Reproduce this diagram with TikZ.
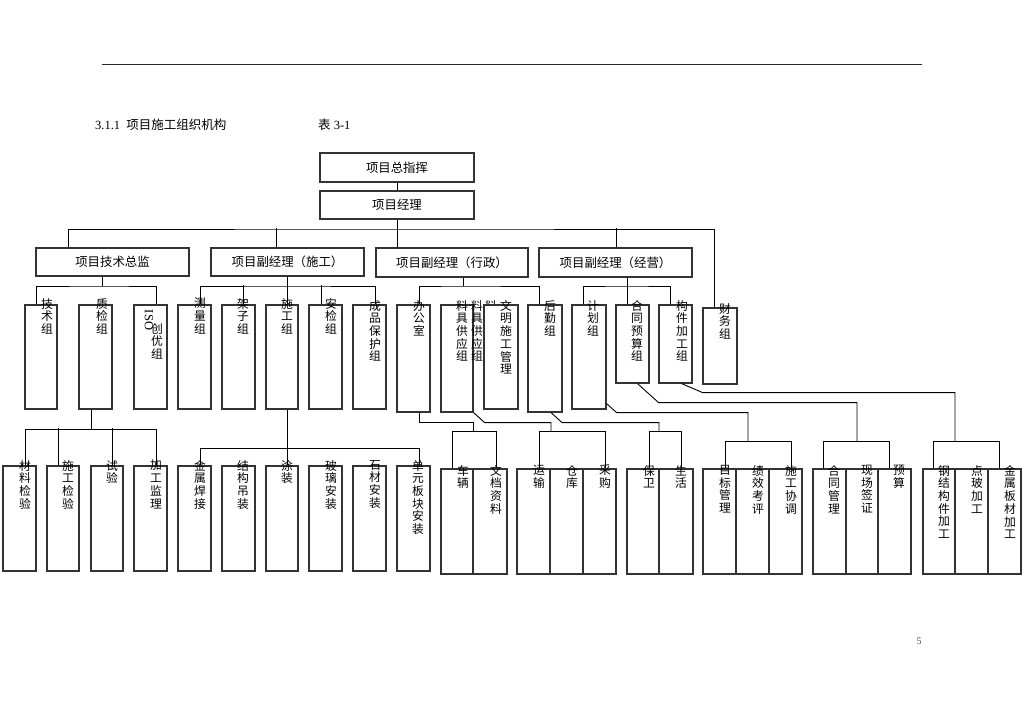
\documentclass[tikz,border=0pt]{standalone}
\usepackage{fontspec}
\setmainfont{Liberation Serif}
\newfontfamily\cjk{Noto Sans CJK SC}
\usetikzlibrary{positioning}

\newcommand\colfont{\cjk\fontsize{11.8}{12.7}\selectfont}
\newcommand\headfont{\cjk\fontsize{12.4}{14}\selectfont}

% empty box from (x1,y1) to (x2,y2)
\newcommand\unitbox[5]{%
  \node[unit, minimum width={#4-#2}, minimum height={#5-#3}]
    (#1) at ({(#2+#4)/2},{(#3+#5)/2}) {};}
% box with its title inside
\newcommand\headbox[6]{%
  \node[head, minimum width={#4-#2}, minimum height={#5-#3}]
    (#1) at ({(#2+#4)/2},{(#3+#5)/2}) {#6};}

\begin{document}
\begin{tikzpicture}[
  x=1pt, y=-1pt,
  unit/.style={draw=black!80, line width=1.1pt, fill=white, inner sep=0pt},
  head/.style={unit, font=\headfont},
  col/.style={anchor=north, align=center, inner sep=0pt, font=\colfont},
  link/.style={line width=0.9pt, black},
]
\useasboundingbox (0,0) rectangle (1024,724);

% page furniture
\coordinate (rl) at (102,64);
\coordinate (rr) at (922,64);
\draw[line width=0.8pt, black!85] (rl) -- (rr);
\node[anchor=west, inner sep=0pt, font=\fontsize{12.5}{14}\selectfont] (title) at (95,125)
  {3.1.1\ \ {\cjk\fontsize{12.5}{14}\selectfont 项目施工组织机构}};
\node[anchor=west, inner sep=0pt, font=\fontsize{12.5}{14}\selectfont] (tabno) at (318,125)
  {{\cjk 表}\ 3-1};
\node[inner sep=0pt, font=\fontsize{10}{12}\selectfont, text=black!70] (pageno) at (919,641) {5};

% === connectors ===
\coordinate (b0) at (397,229);
\coordinate (b1) at (102,286);
\coordinate (b2) at (287,286);
\coordinate (b3) at (463,286);
\coordinate (b4) at (627,286);
\coordinate (b5) at (91,429);
\coordinate (b6) at (287,448);
\coordinate (b7) at (473,431);
\coordinate (b8) at (551,431);
\coordinate (b9) at (659,431);
\coordinate (b10) at (748,441);
\coordinate (b11) at (857,441);
\coordinate (b12) at (955,441);

% boxes
\headbox{zzh}{320}{153}{474}{182}{项目总指挥}
\headbox{xmjl}{320}{191}{474}{219}{项目经理}
\headbox{jszj}{36}{248}{189}{276}{项目技术总监}
\headbox{sgfj}{211}{248}{364}{276}{项目副经理（施工）}
\headbox{xzfj}{376}{248}{528}{277}{项目副经理（行政）}
\headbox{jyfj}{539}{248}{692}{277}{项目副经理（经营）}

\unitbox{jsz}{25}{305}{57}{409}
\unitbox{zjz}{79}{305}{112}{409}
\unitbox{iso}{134}{305}{167}{409}
\unitbox{clz}{178}{305}{211}{409}
\unitbox{jzz}{222}{305}{255}{409}
\unitbox{sgz}{266}{305}{298}{409}
\unitbox{ajz}{309}{305}{342}{409}
\unitbox{cpz}{353}{305}{386}{409}
\unitbox{bgs}{397}{305}{430}{412}
\unitbox{ljz}{441}{305}{473}{412}
\node[col] (t-ljz3) at (491,300) {料\\具\\供\\应\\组};
\unitbox{wm}{484}{305}{518}{409}
\unitbox{hqz}{528}{305}{562}{412}
\unitbox{jhz}{572}{305}{606}{409}
\unitbox{htz}{616}{305}{649}{383}
\unitbox{gjz}{659}{305}{692}{383}
\unitbox{cwz}{703}{308}{737}{384}

\unitbox{cljy}{3}{466}{36}{571}
\unitbox{sgjy}{47}{466}{79}{571}
\unitbox{sy}{91}{466}{123}{571}
\unitbox{jgjl}{134}{466}{167}{571}
\unitbox{jshj}{178}{466}{211}{571}
\unitbox{jgdz}{222}{466}{255}{571}
\unitbox{tz}{266}{466}{298}{571}
\unitbox{blaz}{309}{466}{342}{571}
\unitbox{scaz}{353}{466}{386}{571}
\unitbox{dyaz}{397}{466}{430}{571}

\unitbox{cl}{441}{469}{473}{574}
\unitbox{wdzl}{473}{469}{507}{574}
\unitbox{ys}{517}{469}{550}{574}
\unitbox{ck}{550}{469}{583}{574}
\unitbox{cg}{583}{469}{616}{574}
\unitbox{bw}{627}{469}{659}{574}
\unitbox{sh}{659}{469}{693}{574}
\unitbox{mbgl}{703}{469}{736}{574}
\unitbox{jxkp}{736}{469}{769}{574}
\unitbox{sgxt}{769}{469}{802}{574}
\unitbox{htgl}{813}{469}{846}{574}
\unitbox{xcqz}{846}{469}{878}{574}
\unitbox{ysx}{878}{469}{911}{574}
\unitbox{gjg}{923}{469}{955}{574}
\unitbox{dbjg}{955}{469}{988}{574}
\unitbox{jsbc}{988}{469}{1021}{574}

% top levels
\draw[link] (zzh) -- (xmjl);
\draw[link] (xmjl) -- (b0);
\draw[link] (jszj.north -| 68,0) |- (b0) -| (cwz.north -| 714,0);
\draw[link] (sgfj.north -| 276,0) -- ++(0,-19);
\draw[link] (xzfj.north -| b0) -- (b0);
\draw[link] (jyfj.north -| 616,0) -- ++(0,-19);

% technical
\draw[link] (jszj.south -| b1) -- (b1);
\draw[link] (jsz.north -| 36,0) |- (b1) -| (iso.north -| 156,0);
% construction
\draw[link] (sgfj.south -| b2) -- (sgz.north -| b2);
\draw[link] (clz.north -| 200,0) |- (b2) -| (cpz.north -| 375,0);
\draw[link] (jzz.north -| 243,0) -- ++(0,-19);
\draw[link] (ajz.north -| 321,0) -- ++(0,-19);
% administration
\draw[link] (xzfj.south -| b3) -- (b3);
\draw[link] (bgs.north -| 419,0) |- (b3) -| (hqz.north -| 539,0);
% business
\draw[link] (jyfj.south -| b4) -- (htz.north -| b4);
\draw[link] (jhz.north -| 583,0) |- (b4) -| (gjz.north -| 670,0);

% quality check sub units
\draw[link] (zjz.south -| b5) -- (b5);
\draw[link] (cljy.north -| 25,0) |- (b5) -| (jgjl.north -| 156,0);
\draw[link] (sgjy.north -| 58,0) -- ++(0,-37);
\draw[link] (sy.north -| 112,0) -- ++(0,-37);
% works sub units
\draw[link] (sgz.south -| b6) -- (tz.north -| b6);
\draw[link] (jshj.north -| 200,0) |- (b6) -| (dyaz.north -| 419,0);

% admin sub units
\draw[link] (bgs.south -| 419,0) -- ++(0,10) -| (b7);
\draw[link] (cl.north -| 452,0) |- (b7) -| (wdzl.north -| 496,0);
\draw[link] (ljz.south east) -- ++(11,10) -| (b8);
\draw[link] (ys.north -| 539,0) |- (b8) -| (cg.north -| 605,0);
\draw[link] (hqz.south -| 551,0) -- ++(11,10) -| (b9);
\draw[link] (bw.north -| 649,0) |- (b9) -| (sh.north -| 681,0);
% business sub units
\draw[link] ([yshift=6pt]jhz.south east) -- ++(10,9) -| (b10);
\draw[link] (mbgl.north -| 725,0) |- (b10) -| (sgxt.north -| 791,0);
\draw[link] ([xshift=5pt]htz.south) -- ++(21,19) -| (b11);
\draw[link] (htgl.north -| 823,0) |- (b11) -| (ysx.north -| 889,0);
\draw[link] ([xshift=6pt]gjz.south) -- ++(21,9) -| (b12);
\draw[link] (gjg.north -| 933,0) |- (b12) -| (jsbc.north -| 999,0);

% === labels ===
\node[col] (t-jsz) at (47,298) {技\\术\\组};
\node[col] (t-zjz) at (102,298) {质\\检\\组};
\node[rotate=-90, inner sep=0pt, font=\fontsize{12.5}{12.5}\selectfont] (t-iso) at (149,320) {ISO};
\node[col] (t-cyz) at (157,323) {创\\优\\组};
\node[col] (t-clz) at (200,298) {测\\量\\组};
\node[col] (t-jzz) at (243,298) {架\\子\\组};
\node[col] (t-sgz) at (287,298) {施\\工\\组};
\node[col] (t-ajz) at (331,298) {安\\检\\组};
\node[col] (t-cpz) at (375,300) {成\\品\\保\\护\\组};
\node[col] (t-bgs) at (419,300) {办\\公\\室};
\node[col] (t-ljz) at (462,300) {料\\具\\供\\应\\组};
\node[col] (t-ljz2) at (477,300) {料\\具\\供\\应\\组};
\node[col] (t-wm) at (506,300) {文\\明\\施\\工\\管\\理};
\node[col] (t-hqz) at (550,300) {后\\勤\\组};
\node[col] (t-jhz) at (593,300) {计\\划\\组};
\node[col] (t-htz) at (637,300) {合\\同\\预\\算\\组};
\node[col] (t-gjz) at (682,300) {构\\件\\加\\工\\组};
\node[col] (t-cwz) at (725,303) {财\\务\\组};

\node[col] (t-cljy) at (25,460) {材\\料\\检\\验};
\node[col] (t-sgjy) at (68,460) {施\\工\\检\\验};
\node[col] (t-sy) at (112,460) {试\\验};
\node[col] (t-jgjl) at (156,460) {加\\工\\监\\理};
\node[col] (t-jshj) at (200,460) {金\\属\\焊\\接};
\node[col] (t-jgdz) at (243,460) {结\\构\\吊\\装};
\node[col] (t-tz) at (287,460) {涂\\装};
\node[col] (t-blaz) at (331,460) {玻\\璃\\安\\装};
\node[col] (t-scaz) at (375,460) {石\\材\\安\\装};
\node[col] (t-dyaz) at (418,460) {单\\元\\板\\块\\安\\装};

\node[col] (t-cl) at (463,465) {车\\辆};
\node[col] (t-wdzl) at (496,465) {文\\档\\资\\料};
\node[col] (t-ys) at (539,465) {运\\输};
\node[col] (t-ck) at (572,465) {仓\\库};
\node[col] (t-cg) at (605,465) {采\\购};
\node[col] (t-bw) at (649,465) {保\\卫};
\node[col] (t-sh) at (681,465) {生\\活};
\node[col] (t-mbgl) at (725,465) {目\\标\\管\\理};
\node[col] (t-jxkp) at (758,465) {绩\\效\\考\\评};
\node[col] (t-sgxt) at (791,465) {施\\工\\协\\调};
\node[col] (t-htgl) at (834,465) {合\\同\\管\\理};
\node[col] (t-xcqz) at (867,465) {现\\场\\签\\证};
\node[col] (t-ysx) at (899,465) {预\\算};
\node[col] (t-gjg) at (944,465) {钢\\结\\构\\件\\加\\工};
\node[col] (t-dbjg) at (977,465) {点\\玻\\加\\工};
\node[col] (t-jsbc) at (1010,465) {金\\属\\板\\材\\加\\工};
\end{tikzpicture}
\end{document}
